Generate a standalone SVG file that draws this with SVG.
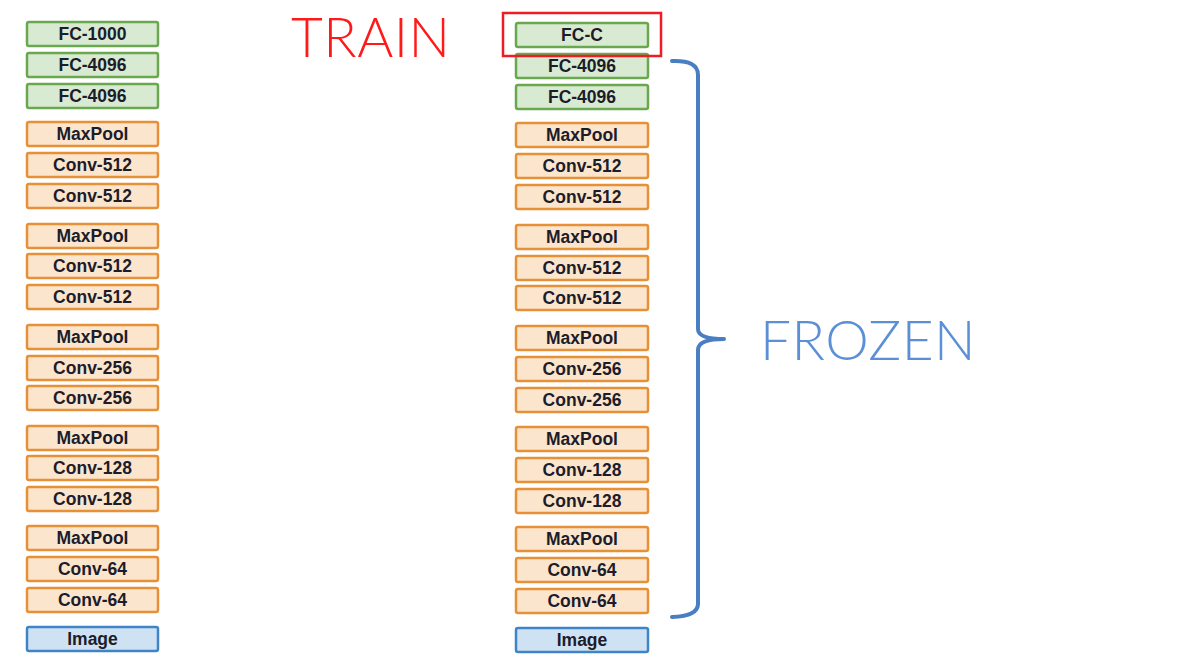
<svg xmlns="http://www.w3.org/2000/svg" width="1184" height="665" viewBox="0 0 1184 665">
<style>
rect.l{stroke-width:2.5;rx:2}
.fc{fill:#d9ead3;stroke:#6aa84f}
.cv{fill:#fce5cd;stroke:#e69138}
.im{fill:#cfe2f3;stroke:#3d85c6}
text.t{font-family:"Liberation Sans",Arial,sans-serif;font-weight:bold;font-size:17.5px;fill:#1c1c2a;text-anchor:middle;dominant-baseline:central}
.big{font-family:"Lato","Open Sans",sans-serif;font-weight:300;font-size:55px;letter-spacing:0.5px}
</style>
<rect width="1184" height="665" fill="#fff"/>
<g id="left">
<g id="l1"><rect class="l fc" x="27" y="22" width="131" height="24"/><text class="t" x="92.5" y="34">FC-1000</text></g>
<g id="l2"><rect class="l fc" x="27" y="53" width="131" height="24"/><text class="t" x="92.5" y="65">FC-4096</text></g>
<g id="l3"><rect class="l fc" x="27" y="84" width="131" height="24"/><text class="t" x="92.5" y="96">FC-4096</text></g>
<g id="l4"><rect class="l cv" x="27" y="122" width="131" height="24"/><text class="t" x="92.5" y="134">MaxPool</text></g>
<g id="l5"><rect class="l cv" x="27" y="153" width="131" height="24"/><text class="t" x="92.5" y="165">Conv-512</text></g>
<g id="l6"><rect class="l cv" x="27" y="184" width="131" height="24"/><text class="t" x="92.5" y="196">Conv-512</text></g>
<g id="l7"><rect class="l cv" x="27" y="224" width="131" height="24"/><text class="t" x="92.5" y="236">MaxPool</text></g>
<g id="l8"><rect class="l cv" x="27" y="254" width="131" height="24"/><text class="t" x="92.5" y="266">Conv-512</text></g>
<g id="l9"><rect class="l cv" x="27" y="285" width="131" height="24"/><text class="t" x="92.5" y="297">Conv-512</text></g>
<g id="l10"><rect class="l cv" x="27" y="325" width="131" height="24"/><text class="t" x="92.5" y="337">MaxPool</text></g>
<g id="l11"><rect class="l cv" x="27" y="356" width="131" height="24"/><text class="t" x="92.5" y="368">Conv-256</text></g>
<g id="l12"><rect class="l cv" x="27" y="386" width="131" height="24"/><text class="t" x="92.5" y="398">Conv-256</text></g>
<g id="l13"><rect class="l cv" x="27" y="426" width="131" height="24"/><text class="t" x="92.5" y="438">MaxPool</text></g>
<g id="l14"><rect class="l cv" x="27" y="456" width="131" height="24"/><text class="t" x="92.5" y="468">Conv-128</text></g>
<g id="l15"><rect class="l cv" x="27" y="487" width="131" height="24"/><text class="t" x="92.5" y="499">Conv-128</text></g>
<g id="l16"><rect class="l cv" x="27" y="526" width="131" height="24"/><text class="t" x="92.5" y="538">MaxPool</text></g>
<g id="l17"><rect class="l cv" x="27" y="557" width="131" height="24"/><text class="t" x="92.5" y="569">Conv-64</text></g>
<g id="l18"><rect class="l cv" x="27" y="588" width="131" height="24"/><text class="t" x="92.5" y="600">Conv-64</text></g>
<g id="l19"><rect class="l im" x="27" y="627" width="131" height="24"/><text class="t" x="92.5" y="639">Image</text></g>
</g>
<g id="right">
<g id="r1"><rect class="l fc" x="516" y="23" width="132" height="24"/><text class="t" x="582" y="35">FC-C</text></g>
<g id="r2"><rect class="l fc" x="516" y="54" width="132" height="24"/><text class="t" x="582" y="66">FC-4096</text></g>
<g id="r3"><rect class="l fc" x="516" y="85" width="132" height="24"/><text class="t" x="582" y="97">FC-4096</text></g>
<g id="r4"><rect class="l cv" x="516" y="123" width="132" height="24"/><text class="t" x="582" y="135">MaxPool</text></g>
<g id="r5"><rect class="l cv" x="516" y="154" width="132" height="24"/><text class="t" x="582" y="166">Conv-512</text></g>
<g id="r6"><rect class="l cv" x="516" y="185" width="132" height="24"/><text class="t" x="582" y="197">Conv-512</text></g>
<g id="r7"><rect class="l cv" x="516" y="225" width="132" height="24"/><text class="t" x="582" y="237">MaxPool</text></g>
<g id="r8"><rect class="l cv" x="516" y="256" width="132" height="24"/><text class="t" x="582" y="268">Conv-512</text></g>
<g id="r9"><rect class="l cv" x="516" y="286" width="132" height="24"/><text class="t" x="582" y="298">Conv-512</text></g>
<g id="r10"><rect class="l cv" x="516" y="326" width="132" height="24"/><text class="t" x="582" y="338">MaxPool</text></g>
<g id="r11"><rect class="l cv" x="516" y="357" width="132" height="24"/><text class="t" x="582" y="369">Conv-256</text></g>
<g id="r12"><rect class="l cv" x="516" y="388" width="132" height="24"/><text class="t" x="582" y="400">Conv-256</text></g>
<g id="r13"><rect class="l cv" x="516" y="427" width="132" height="24"/><text class="t" x="582" y="439">MaxPool</text></g>
<g id="r14"><rect class="l cv" x="516" y="458" width="132" height="24"/><text class="t" x="582" y="470">Conv-128</text></g>
<g id="r15"><rect class="l cv" x="516" y="489" width="132" height="24"/><text class="t" x="582" y="501">Conv-128</text></g>
<g id="r16"><rect class="l cv" x="516" y="527" width="132" height="24"/><text class="t" x="582" y="539">MaxPool</text></g>
<g id="r17"><rect class="l cv" x="516" y="558" width="132" height="24"/><text class="t" x="582" y="570">Conv-64</text></g>
<g id="r18"><rect class="l cv" x="516" y="589" width="132" height="24"/><text class="t" x="582" y="601">Conv-64</text></g>
<g id="r19"><rect class="l im" x="516" y="628" width="132" height="24"/><text class="t" x="582" y="640">Image</text></g>
</g>
<g id="annotations">
<rect x="503" y="13" width="158" height="43" fill="none" stroke="#ee1c25" stroke-width="2.5"/>
<text class="big" x="291" y="57" fill="#ff1a1a">TRAIN</text>
<path d="M672,61 Q698,60 698,75 L698,329 Q698,339 724,339 Q698,339 698,350 L698,604 Q698,616 672,617" fill="none" stroke="#4a7ec2" stroke-width="4" stroke-linejoin="round" stroke-linecap="round"/>
<text class="big" x="760" y="360" fill="#5b8fd6">FROZEN</text>
</g>
</svg>
